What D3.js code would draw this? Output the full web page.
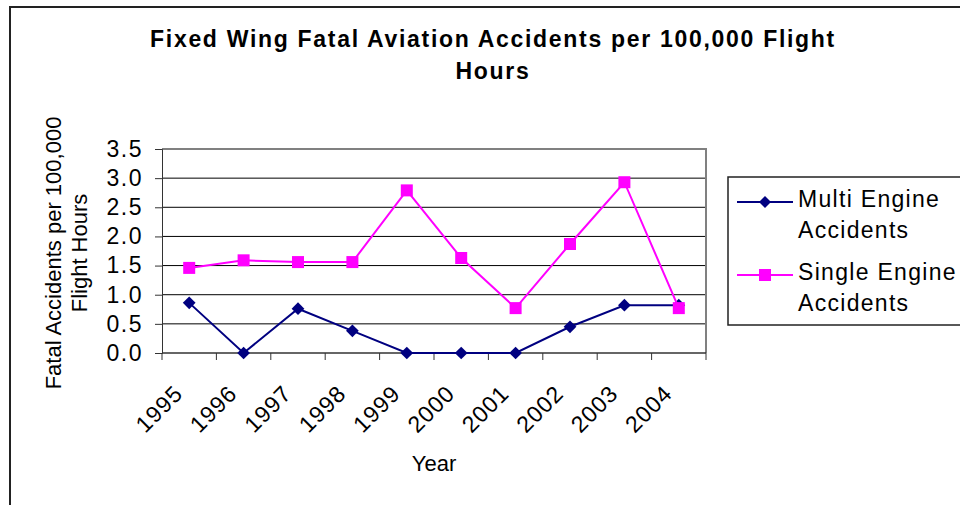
<!DOCTYPE html>
<html>
<head>
<meta charset="utf-8">
<script src="https://cdn.jsdelivr.net/npm/d3@7"></script>
<style>
  body { margin: 0; background: #fff; }
  text { font-family: "Liberation Sans", Arial, sans-serif; fill: #000; }
</style>
</head>
<body>
<div id="chart"></div>
<script>
// data
const years = ["1995", "1996", "1997", "1998", "1999", "2000", "2001", "2002", "2003", "2004"];
const multiEngine = [0.86, 0.0, 0.76, 0.38, 0.0, 0.0, 0.0, 0.45, 0.82, 0.82];
const singleEngine = [1.46, 1.59, 1.56, 1.56, 2.79, 1.63, 0.77, 1.87, 2.93, 0.77];
const yTicks = [0, 0.5, 1, 1.5, 2, 2.5, 3, 3.5];
const seriesNames = ["Multi Engine Accidents", "Single Engine Accidents"];

const width = 960, height = 505,
    margin = ({ top: 149, right: 254, bottom: 152, left: 162 });

const svg = d3.select("#chart")
    .append("svg")
    .attr("width", width)
    .attr("height", height);

// outer chart border (runs off the right and bottom edge)
svg.append("rect")
    .attr("x", 10).attr("y", 7)
    .attr("width", width).attr("height", height)
    .attr("fill", "none")
    .attr("stroke", "#222")
    .attr("stroke-width", 2);

// scales
let x = d3.scaleBand()
    .domain(years)
    .range([margin.left, width - margin.right]);

let y = d3.scaleLinear()
    .domain([0, 3.5])
    .range([height - margin.bottom, margin.top]);

// gridlines
svg.append("g")
    .selectAll("line")
    .data(yTicks.slice(1))
    .join("line")
    .attr("x1", margin.left).attr("x2", width - margin.right)
    .attr("y1", d => y(d)).attr("y2", d => y(d))
    .attr("stroke", "#000")
    .attr("stroke-width", 1);

// plot border top/right
svg.append("path")
    .attr("d", `M${margin.left},${y(3.5)}H${width - margin.right}V${y(0)}`)
    .attr("fill", "none")
    .attr("stroke", "#808080")
    .attr("stroke-width", 2);

// y axis
svg.append("g")
    .attr("class", "y-axis")
    .attr("transform", `translate(${margin.left},0)`)
    .call(d3.axisLeft(y).tickValues(yTicks).tickFormat(d3.format(".1f")).tickSize(7).tickPadding(12))
    .call(g => g.selectAll("text").style("font-size", "23px").style("letter-spacing", "1.5px").attr("font-family", null))
    .call(g => g.selectAll("line, path").attr("stroke", "#333"));

// x axis: ticks sit on the category boundaries
let edges = years.map(d => x(d)).concat([x(years[years.length - 1]) + x.bandwidth()]);
svg.append("line")
    .attr("x1", margin.left).attr("x2", width - margin.right)
    .attr("y1", y(0)).attr("y2", y(0))
    .attr("stroke", "#333").attr("stroke-width", 1.5);
svg.append("g")
    .selectAll("line")
    .data(edges)
    .join("line")
    .attr("x1", d => d).attr("x2", d => d)
    .attr("y1", y(0)).attr("y2", y(0) + 7)
    .attr("stroke", "#333");

svg.append("g")
    .selectAll("text")
    .data(years)
    .join("text")
    .attr("text-anchor", "end")
    .attr("transform", d => `translate(${x(d) + x.bandwidth() / 2 - 5},${y(0) + 42}) rotate(-45)`)
    .style("font-size", "23px")
    .style("letter-spacing", "1px")
    .text(d => d);

// title
svg.append("text")
    .attr("text-anchor", "middle")
    .attr("x", 493).attr("y", 47)
    .style("font-size", "23px").style("font-weight", "bold").style("letter-spacing", "1.7px")
    .text("Fixed Wing Fatal Aviation Accidents per 100,000 Flight");
svg.append("text")
    .attr("text-anchor", "middle")
    .attr("x", 493).attr("y", 79)
    .style("font-size", "23px").style("font-weight", "bold").style("letter-spacing", "1.7px")
    .text("Hours");

// axis titles
svg.append("text")
    .attr("text-anchor", "middle")
    .attr("x", 434).attr("y", 471)
    .style("font-size", "22px")
    .text("Year");

let yLab = svg.append("text")
    .attr("text-anchor", "middle")
    .attr("transform", "translate(61,253) rotate(-90)")
    .style("font-size", "22px");
yLab.append("tspan").attr("x", 0).attr("y", 0).text("Fatal Accidents per 100,000");
yLab.append("tspan").attr("x", 0).attr("y", 26).text("Flight Hours");

// lines and markers
let line = d3.line()
    .x((d, i) => x(years[i]) + x.bandwidth() / 2)
    .y(d => y(d));

const colors = ["#000080", "#ff00ff"];

svg.append("path")
    .datum(multiEngine)
    .attr("d", line)
    .attr("fill", "none")
    .attr("stroke", colors[0])
    .attr("stroke-width", 2);

svg.append("g")
    .selectAll("path")
    .data(multiEngine)
    .join("path")
    .attr("d", d3.symbol(d3.symbolSquare, 81))
    .attr("transform", (d, i) => `translate(${x(years[i]) + x.bandwidth() / 2},${y(d)}) rotate(45)`)
    .attr("fill", colors[0]);

svg.append("path")
    .datum(singleEngine)
    .attr("d", line)
    .attr("fill", "none")
    .attr("stroke", colors[1])
    .attr("stroke-width", 2);

svg.append("g")
    .selectAll("rect")
    .data(singleEngine)
    .join("rect")
    .attr("x", (d, i) => x(years[i]) + x.bandwidth() / 2 - 6)
    .attr("y", d => y(d) - 6)
    .attr("width", 12).attr("height", 12)
    .attr("fill", colors[1]);

// legend
const legend = svg.append("g");
legend.append("rect")
    .attr("x", 728).attr("y", 177)
    .attr("width", 260).attr("height", 148)
    .attr("fill", "none")
    .attr("stroke", "#222")
    .attr("stroke-width", 1.5);

const legendY = [202, 275];
seriesNames.forEach((name, i) => {
    let g = legend.append("g").attr("transform", `translate(0,${legendY[i]})`);
    g.append("line")
        .attr("x1", 737).attr("x2", 793)
        .attr("stroke", colors[i]).attr("stroke-width", 2);
    if (i == 0) {
        g.append("path")
            .attr("d", d3.symbol(d3.symbolSquare, 72))
            .attr("transform", "translate(765,0) rotate(45)")
            .attr("fill", colors[i]);
    } else {
        g.append("rect")
            .attr("x", 759).attr("y", -6)
            .attr("width", 12).attr("height", 12)
            .attr("fill", colors[i]);
    }
    let words = name.split(" ");
    let t = g.append("text").style("font-size", "23px").style("letter-spacing", "1.3px");
    t.append("tspan").attr("x", 798).attr("y", 5).text(words.slice(0, 2).join(" "));
    t.append("tspan").attr("x", 798).attr("y", 36).text(words[2]);
});
</script>
</body>
</html>
